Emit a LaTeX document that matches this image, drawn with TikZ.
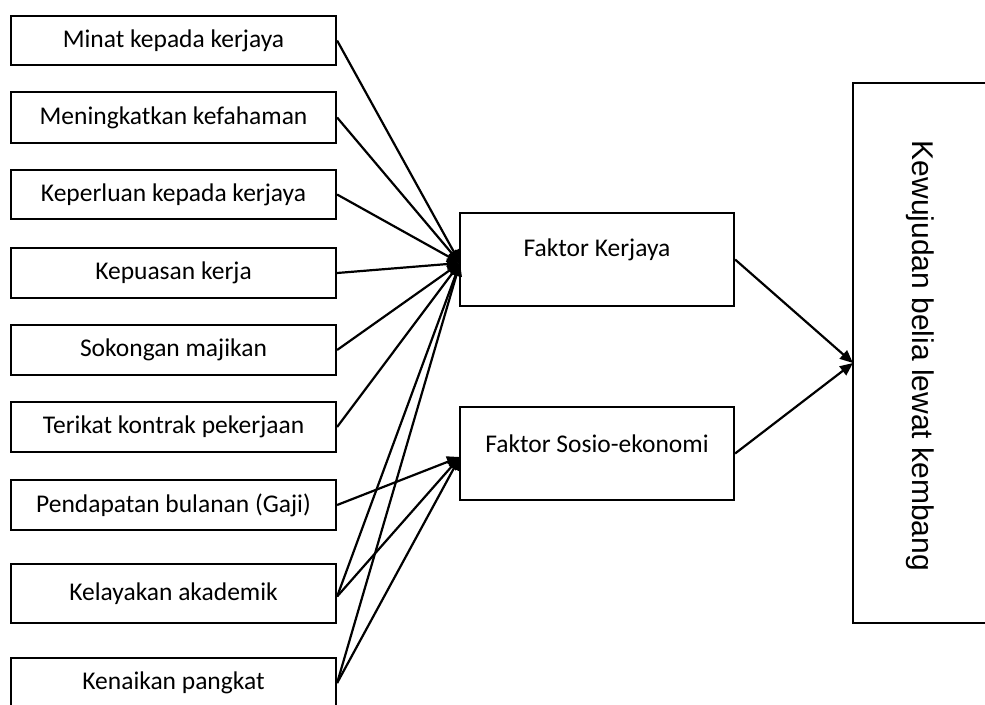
\documentclass[tikz,border=0pt]{standalone}
\usepackage{fontspec}
\setmainfont{Carlito}
\newfontfamily\rotfont{Liberation Sans}
\usetikzlibrary{arrows.meta}
\begin{document}
\begin{tikzpicture}[x=1pt,y=-1pt,
  factor/.style={draw, line width=2.2pt, minimum width=325pt, inner sep=0pt,
    font=\fontsize{25.5}{30}\selectfont},
  midbox/.style={draw, line width=2.2pt, minimum width=274pt, minimum height=93pt, inner sep=0pt},
  midtext/.style={font=\fontsize{25.5}{30}\selectfont, inner sep=0pt},
  conn/.style={line width=2.2pt, -{Triangle[length=13pt,width=11pt]}}]
\useasboundingbox (0,0) rectangle (985,704);
\fill[white] (0,0) rectangle (985,704);
% left factors
\node[factor, minimum height=49pt] (f1) at (173.5,40.5) {Minat kepada kerjaya};
\node[factor, minimum height=51pt] (f2) at (173.5,117.5) {Meningkatkan kefahaman};
\node[factor, minimum height=49pt] (f3) at (173.5,194.5) {Keperluan kepada kerjaya};
\node[factor, minimum height=50pt] (f4) at (173.5,273) {Kepuasan kerja};
\node[factor, minimum height=50pt] (f5) at (173.5,350) {Sokongan majikan};
\node[factor, minimum height=50pt] (f6) at (173.5,427) {Terikat kontrak pekerjaan};
\node[factor, minimum height=50pt] (f7) at (173.5,505) {Pendapatan bulanan (Gaji)};
\node[factor, minimum height=59pt] (f8) at (173.5,593.5) {Kelayakan akademik};
\node[factor, minimum height=50pt] (f9) at (173.5,683) {Kenaikan pangkat};
% middle boxes
\node[midbox] (kerj) at (597,259.5) {};
\node[midtext] (kerjt) at (597,250) {Faktor Kerjaya};
\node[midbox] (sos) at (597,453.5) {};
\node[midtext] (sost) at (597,444) {Faktor Sosio-ekonomi};
% right box
\node[draw, line width=2.2pt, minimum width=150pt, minimum height=540pt, inner sep=0pt] (out) at (928,353) {};
\node[rotate=-90, inner sep=0pt, font=\rotfont\fontsize{30}{36}\selectfont] (outt) at (920,356) {Kewujudan belia lewat kembang};
% targets
\coordinate (kin) at (460,263);
\coordinate (sin) at (460,457);
\coordinate (oin) at (853,363);
% connectors
\draw[conn] (f1.east) -- (kin);
\draw[conn] (f2.east) -- (kin);
\draw[conn] (f3.east) -- (kin);
\draw[conn] (f4.east) -- (kin);
\draw[conn] (f5.east) -- (kin);
\draw[conn] (f6.east) -- (kin);
\draw[conn] (f7.east) -- (sin);
\draw[conn] ([yshift=-3pt]f8.east) -- (kin);
\draw[conn] ([yshift=-3pt]f8.east) -- (sin);
\draw[conn] (f9.east) -- (kin);
\draw[conn] (f9.east) -- (sin);
\draw[conn] (kerj.east) -- (oin);
\draw[conn] (sos.east) -- (oin);
\end{tikzpicture}
\end{document}
